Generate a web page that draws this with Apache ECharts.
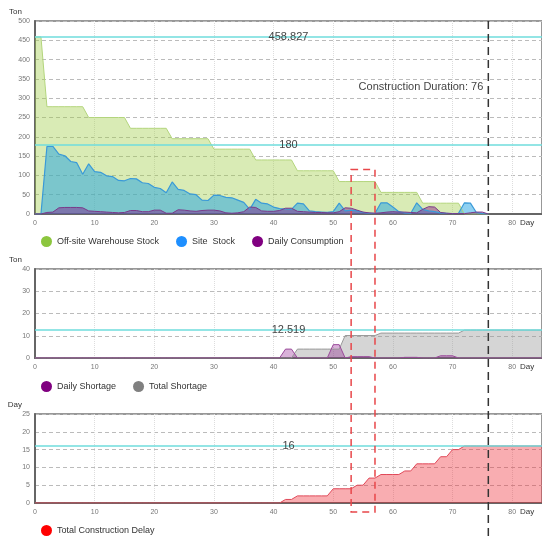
<!DOCTYPE html>
<html>
<head>
<meta charset="utf-8">
<script src="https://cdn.jsdelivr.net/npm/echarts@6/dist/echarts.min.js"></script>
<style>
  html, body { margin: 0; padding: 0; background: #fff; }
  #chart { width: 542px; height: 538px; }
</style>
</head>
<body>
<div id="chart"></div>
<script>
// top chart, days 0..76
const offsiteStock = [458.827, 458.827, 278, 278, 278, 278, 278, 278, 278, 250, 250, 250, 250, 250, 250, 250,
  222, 222, 222, 222, 222, 222, 222, 195, 195, 195, 195, 195, 195, 195, 168, 168, 168, 168, 168, 168, 168,
  140, 140, 140, 140, 140, 140, 140, 112, 112, 112, 112, 112, 112, 112, 84, 84, 84, 84, 84, 84, 84,
  56, 56, 56, 56, 56, 56, 56, 28, 28, 28, 28, 28, 28, 28, 0, 0, 0, 0, 0];
const siteStock = [0, 0, 175, 175, 155, 151, 136, 133, 103, 130, 110, 108, 99, 97, 87, 86, 92, 91, 81, 79,
  69, 66, 55, 83, 64, 61, 52, 50, 36, 35, 49, 48, 43, 42, 36, 30, 12, 38, 28, 26,
  18, 14, 13, 12, 28, 26, 8, 6, 5, 4, 6, 28, 8, 10, 8, 4, 2, 2, 29, 29,
  18, 6, 3, 2, 29, 12, 8, 6, 3, 2, 1, 2, 29, 28, 4, 1, 0];
const dailyConsumption = [0, 0, 4, 5, 16, 17, 17, 17, 16, 8, 7, 6, 5, 4, 3, 4, 9, 9, 6, 6,
  10, 10, 2, 2, 11, 10, 8, 7, 9, 10, 10, 8, 3, 2, 3, 6, 18, 17, 8, 7,
  7, 9, 15, 15, 7, 6, 5, 4, 4, 3, 3, 6, 16, 15, 10, 5, 3, 2, 3, 5,
  6, 5, 5, 4, 3, 12, 19, 18, 4, 2, 1, 1, 1, 3, 5, 5, 0];

// middle chart, days 0..85
const dailyShortage = [0, 0, 0, 0, 0, 0, 0, 0, 0, 0, 0, 0, 0, 0, 0, 0, 0, 0, 0, 0,
  0, 0, 0, 0, 0, 0, 0, 0, 0, 0, 0, 0, 0, 0, 0, 0, 0, 0, 0, 0,
  0, 0, 4, 4, 0, 0, 0, 0, 0, 0, 6, 6, 0, 0.6, 0.6, 0.6, 0.6, 0, 0, 0,
  0, 0, 0.3, 0.3, 0.3, 0, 0, 0, 1, 1, 1, 0, 0, 0, 0, 0, 0, 0, 0, 0,
  0, 0, 0, 0, 0, 0];
const totalShortage = [0, 0, 0, 0, 0, 0, 0, 0, 0, 0, 0, 0, 0, 0, 0, 0, 0, 0, 0, 0,
  0, 0, 0, 0, 0, 0, 0, 0, 0, 0, 0, 0, 0, 0, 0, 0, 0, 0, 0, 0,
  0, 0, 0, 0, 4, 4, 4, 4, 4, 4, 4, 4, 10.1, 10.1, 10.1, 10.1, 10.1, 10.1, 11.2, 11.2,
  11.2, 11.2, 11.2, 11.2, 11.2, 11.2, 11.2, 11.2, 11.2, 11.2, 11.2, 11.2, 12.519, 12.519, 12.519, 12.519, 12.519, 12.519, 12.519, 12.519,
  12.519, 12.519, 12.519, 12.519, 12.519, 12.519];

// bottom chart, days 0..85
const totalDelay = [0, 0, 0, 0, 0, 0, 0, 0, 0, 0, 0, 0, 0, 0, 0, 0, 0, 0, 0, 0,
  0, 0, 0, 0, 0, 0, 0, 0, 0, 0, 0, 0, 0, 0, 0, 0, 0, 0, 0, 0,
  0, 0, 1, 1, 2, 2, 2, 2, 2, 2, 4, 4, 4, 4, 5, 5, 7, 7, 8, 8,
  8, 8, 9, 9, 11, 11, 11, 11, 13, 13, 15, 15, 16, 16, 16, 16, 16, 16, 16, 16,
  16, 16, 16, 16, 16, 16];

const stockLines = [458.827, 180];
const shortageLine = 12.519;
const delayLine = 16;
const duration = 76;
const highlightDays = [53, 57];
const highlightTop = 115;

const withDay = (arr) => arr.map((v, i) => [i, v]);

const markLineStyle = (values) => ({
  symbol: 'none',
  silent: true,
  lineStyle: { color: '#6fdcdc', width: 1.5, type: 'solid' },
  label: {
    position: 'middle', distance: 0, verticalAlign: 'middle', formatter: '{b}',
    fontSize: 11, color: '#444', fontFamily: 'Liberation Sans',
  },
  data: values.map((v) => ({ yAxis: v, name: String(v) })),
});

function xAxisFor(gridIndex) {
  return {
    type: 'value', gridIndex, min: 0, max: 85, interval: 10,
    name: 'Day', nameLocation: 'end', nameGap: -22,
    nameTextStyle: { fontSize: 8, color: '#333', align: 'left', verticalAlign: 'top', padding: [5, 0, 0, 0] },
    axisLine: { show: true, onZero: false, lineStyle: { color: '#666', width: 2 } },
    axisTick: { show: false },
    axisLabel: { fontSize: 7, color: '#777', margin: 6, showMaxLabel: false },
    splitLine: { show: true, lineStyle: { color: '#ddd', type: 'dotted' } },
  };
}

function yAxisFor(gridIndex, max, interval, name) {
  return {
    type: 'value', gridIndex, min: 0, max, interval,
    name, nameLocation: 'end', nameGap: 5,
    nameTextStyle: { fontSize: 8, color: '#333', align: 'right', padding: [0, 13, 0, 0] },
    axisLine: { show: true, lineStyle: { color: '#666', width: 2 } },
    axisTick: { show: false },
    axisLabel: { fontSize: 7, color: '#777', margin: 5 },
    splitLine: { show: true, lineStyle: { color: '#bbb', type: [4, 3] } },
  };
}

const legendBase = {
  left: 36, icon: 'circle', itemWidth: 11, itemHeight: 11, itemGap: 17,
  textStyle: { fontSize: 9, color: '#333', fontFamily: 'Liberation Sans' },
};

const chart = echarts.init(document.getElementById('chart'));
chart.setOption({
  animation: false,
  textStyle: { fontFamily: 'Liberation Sans' },
  grid: [
    { left: 35, right: 0, top: 21, height: 193, show: true, borderColor: '#777', borderWidth: 1.5 },
    { left: 35, right: 0, top: 269, height: 89, show: true, borderColor: '#777', borderWidth: 1.5 },
    { left: 35, right: 0, top: 414, height: 89, show: true, borderColor: '#777', borderWidth: 1.5 },
  ],
  xAxis: [xAxisFor(0), xAxisFor(1), xAxisFor(2)],
  yAxis: [yAxisFor(0, 500, 50, 'Ton'), yAxisFor(1, 40, 10, 'Ton'), yAxisFor(2, 25, 5, 'Day')],
  legend: [
    Object.assign({}, legendBase, { top: 231, data: ['Off-site Warehouse Stock', 'Site  Stock', 'Daily Consumption'] }),
    Object.assign({}, legendBase, { top: 376, data: ['Daily Shortage', 'Total Shortage'] }),
    Object.assign({}, legendBase, { top: 520, data: ['Total Construction Delay'] }),
  ],
  series: [
    {
      name: 'Off-site Warehouse Stock', type: 'line', xAxisIndex: 0, yAxisIndex: 0, symbol: 'none',
      data: withDay(offsiteStock),
      itemStyle: { color: '#8cc63e' },
      lineStyle: { color: '#b3d57c', width: 1 },
      areaStyle: { color: 'rgba(160, 205, 70, 0.4)', opacity: 1 },
      markLine: markLineStyle(stockLines),
    },
    {
      name: 'Site  Stock', type: 'line', xAxisIndex: 0, yAxisIndex: 0, symbol: 'none',
      data: withDay(siteStock),
      itemStyle: { color: '#1e8fff' },
      lineStyle: { color: '#3a9ad8', width: 1.2 },
      areaStyle: { color: 'rgba(30, 162, 228, 0.5)', opacity: 1 },
    },
    {
      name: 'Daily Consumption', type: 'line', xAxisIndex: 0, yAxisIndex: 0, symbol: 'none',
      data: withDay(dailyConsumption),
      itemStyle: { color: '#800080' },
      lineStyle: { color: '#7a3a8a', width: 1 },
      areaStyle: { color: 'rgba(128, 0, 128, 0.4)', opacity: 1 },
    },
    {
      name: 'Total Shortage', type: 'line', xAxisIndex: 1, yAxisIndex: 1, symbol: 'none',
      data: withDay(totalShortage),
      itemStyle: { color: '#808080' },
      lineStyle: { color: '#999', width: 1 },
      areaStyle: { color: 'rgba(150, 150, 150, 0.4)', opacity: 1 },
      markLine: markLineStyle([shortageLine]),
    },
    {
      name: 'Daily Shortage', type: 'line', xAxisIndex: 1, yAxisIndex: 1, symbol: 'none',
      data: withDay(dailyShortage),
      itemStyle: { color: '#800080' },
      lineStyle: { color: '#9a4a9a', width: 1 },
      areaStyle: { color: 'rgba(128, 0, 128, 0.3)', opacity: 1 },
    },
    {
      name: 'Total Construction Delay', type: 'line', xAxisIndex: 2, yAxisIndex: 2, symbol: 'none',
      data: withDay(totalDelay),
      itemStyle: { color: '#ff0000' },
      lineStyle: { color: '#e04858', width: 1 },
      areaStyle: { color: 'rgba(240, 40, 50, 0.38)', opacity: 1 },
      markLine: markLineStyle([delayLine]),
    },
  ],
});

// duration line and highlighted window, placed through the axes
const durTop = chart.convertToPixel({ gridIndex: 0 }, [duration, 500]);
const durText = chart.convertToPixel({ gridIndex: 0 }, [duration, 330]);
const boxTopLeft = chart.convertToPixel({ gridIndex: 0 }, [highlightDays[0], highlightTop]);
const boxRight = chart.convertToPixel({ gridIndex: 0 }, [highlightDays[1], highlightTop]);
const bottomZero = chart.convertToPixel({ gridIndex: 2 }, [highlightDays[0], 0]);

chart.setOption({
  graphic: [
    {
      type: 'line', z: 100,
      shape: { x1: durTop[0], y1: durTop[1], x2: durTop[0], y2: 538 },
      style: { stroke: '#333', lineWidth: 1.5, lineDash: [8, 5] },
    },
    {
      type: 'text', z: 100, x: durText[0] - 5, y: durText[1],
      style: { text: 'Construction Duration: ' + duration, fill: '#444', font: '11px "Liberation Sans"', textAlign: 'right', textVerticalAlign: 'middle' },
    },
    {
      type: 'rect', z: 100,
      shape: { x: boxTopLeft[0], y: boxTopLeft[1], width: boxRight[0] - boxTopLeft[0], height: bottomZero[1] + 9 - boxTopLeft[1] },
      style: { fill: 'rgba(0,0,0,0)', stroke: '#e8474a', lineWidth: 1.5, lineDash: [7, 5] },
    },
  ],
});
</script>
</body>
</html>
